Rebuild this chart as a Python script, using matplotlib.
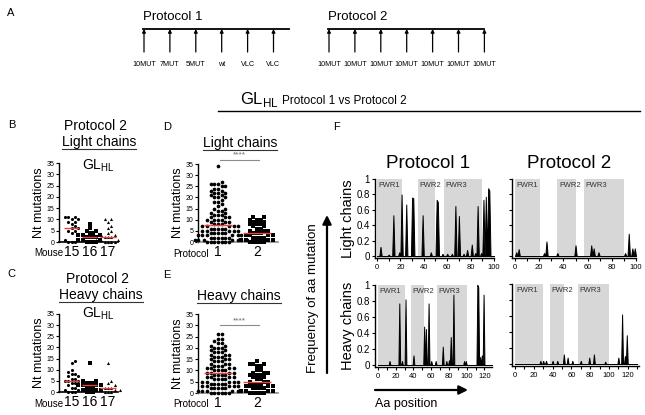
import numpy as np
import matplotlib.pyplot as plt
from matplotlib.ticker import MultipleLocator

plt.rcParams['font.family'] = ['Liberation Sans', 'DejaVu Sans']
plt.rcParams['mathtext.fontset'] = 'custom'
plt.rcParams['mathtext.rm'] = 'Liberation Sans'

W, H = 645, 415
RED = '#e8463c'
SHADE = '#d7d7d7'

# A: injection schedules
p1_shots = ['10MUT', '7MUT', '5MUT', 'wt', 'VLC', 'VLC']
p2_shots = ['10MUT'] * 7

# B/C: protocol 2, nt mutations per sequence for each mouse
mice = ['15', '16', '17']
light_m15 = [0, 0, 0, 1, 1, 4, 5, 5, 6, 6, 7, 8, 9, 9, 10, 10, 11, 11, 11]
light_m16 = [0, 0, 0, 0, 1, 1, 1, 2, 2, 2, 2, 3, 3, 3, 4, 4, 5, 5, 6, 8]
light_m17 = [0, 0, 0, 0, 1, 1, 1, 2, 2, 2, 3, 3, 4, 5, 6, 7, 9, 10, 10]
heavy_m15 = [0, 0, 0, 1, 1, 2, 2, 3, 3, 4, 4, 5, 5, 5, 6, 6, 7, 7, 8, 8, 9, 10, 13, 14]
heavy_m16 = [0, 0, 0, 1, 1, 1, 2, 2, 2, 3, 3, 3, 3, 4, 4, 4, 5, 5, 13]
heavy_m17 = [0, 0, 0, 1, 1, 1, 2, 2, 2, 3, 3, 4, 5, 13]

# D/E: protocol 1 vs protocol 2 (value, number of sequences)
light_p1_nt = [0, 1, 2, 3, 4, 5, 6, 7, 8, 9, 10, 11, 12, 13, 14, 15, 16, 17, 18, 19,
               20, 21, 22, 23, 24, 25, 26, 27, 34]
light_p1_n = [7, 7, 6, 6, 5, 5, 5, 5, 3, 3, 4, 3, 3, 2, 2, 2, 1, 1, 2, 1,
              3, 2, 3, 2, 2, 2, 3, 1, 1]
light_p2_nt = [0, 1, 2, 3, 4, 5, 6, 7, 8, 9, 10, 11]
light_p2_n = [5, 4, 4, 4, 3, 3, 2, 2, 3, 2, 3, 2]
heavy_p1_nt = [0, 1, 2, 3, 4, 5, 6, 7, 8, 9, 10, 11, 12, 13, 14, 15, 16, 17, 18, 19,
               20, 21, 22, 23, 24, 26]
heavy_p1_n = [6, 6, 5, 5, 5, 5, 4, 4, 4, 4, 4, 4, 3, 3, 3, 3, 3, 3, 3, 2,
              3, 2, 2, 1, 2, 2]
heavy_p2_nt = [0, 1, 2, 3, 4, 5, 6, 7, 8, 9, 10, 12, 13, 14]
heavy_p2_n = [5, 4, 4, 4, 3, 3, 2, 2, 3, 3, 2, 2, 3, 1]

# F: frequency of aa mutation by position
light_fwr = [(0, 21), (35, 50), (57, 90)]
heavy_fwr = [(0, 30), (37, 52), (67, 100)]
light_p1_pos = [3, 10, 14, 19, 21, 25, 30, 31, 39, 46, 51, 52, 56, 60, 64, 67, 70, 74,
                77, 81, 84, 86, 89, 91, 93, 95, 96]
light_p1_freq = [0.12, 0.02, 0.53, 0.05, 0.80, 0.67, 0.76, 0.75, 0.53, 0.05, 0.73, 0.70,
                 0.03, 0.03, 0.03, 0.65, 0.52, 0.03, 0.08, 0.15, 0.04, 0.65, 0.04, 0.73,
                 0.77, 0.88, 0.85]
light_p2_pos = [1, 3, 24, 26, 35, 50, 63, 65, 69, 91, 94, 97, 99]
light_p2_freq = [0.05, 0.09, 0.04, 0.19, 0.04, 0.14, 0.14, 0.10, 0.05, 0.04, 0.29, 0.10, 0.10]
heavy_p1_pos = [13, 24, 27, 31, 40, 52, 54, 57, 60, 65, 73, 77, 80, 82, 85, 97, 99,
                112, 113, 115, 117, 119]
heavy_p1_freq = [0.05, 0.77, 0.05, 0.82, 0.12, 0.48, 0.45, 0.77, 0.05, 0.05, 0.23, 0.05,
                 0.06, 0.35, 0.88, 0.05, 0.05, 1.0, 0.97, 0.10, 0.12, 0.88]
heavy_p2_pos = [27, 30, 33, 40, 45, 52, 56, 61, 70, 79, 84, 96, 110, 114, 117, 119]
heavy_p2_freq = [0.04, 0.04, 0.04, 0.04, 0.04, 0.12, 0.08, 0.04, 0.04, 0.08, 0.12, 0.03,
                 0.08, 0.62, 0.10, 0.36]


fig = plt.figure(figsize=(W / 100, H / 100), dpi=100)


def px_axes(l, t, r, b):
    ax = fig.add_axes([l / W, 1 - b / H, (r - l) / W, (b - t) / H])
    ax.patch.set_visible(False)
    for s in ['top', 'right']:
        ax.spines[s].set_visible(False)
    return ax


def dot_axes(l, t, r, b, xlim, xticks, xlabels, bottom_color):
    ax = px_axes(l, t, r, b)
    ax.set_xlim(*xlim)
    ax.set_ylim(0, 35)
    ax.set_yticks(range(0, 36, 5))
    ax.set_xticks(xticks, xlabels)
    ax.tick_params(axis='y', labelsize=5, length=2.5, width=0.8, pad=1)
    ax.tick_params(axis='x', length=0, labelsize=10, pad=2)
    ax.spines['left'].set_linewidth(1)
    ax.spines['bottom'].set_linewidth(1.2)
    ax.spines['bottom'].set_color(bottom_color)
    ax.set_ylabel('Nt mutations', fontsize=9, labelpad=1)
    return ax


def swarm(values, sy, d):
    # simple beeswarm in pixel space: each point takes the closest free slot
    order = np.argsort(values, kind='stable')
    placed = []
    offs = np.zeros(len(values))
    step = d * 0.5
    for i in order:
        y = values[i] * sy
        for k in range(400):
            cand = (k + 1) // 2 * step * (1 if k % 2 else -1)
            if all((cand - px) ** 2 + (y - py) ** 2 >= d * d for px, py in placed):
                break
        placed.append((cand, y))
        offs[i] = cand
    return offs


def dot_column(ax, xc, values, marker, d, size, hw):
    values = np.asarray(values, dtype=float)
    t = ax.transData
    sx = t.transform((1, 0))[0] - t.transform((0, 0))[0]
    sy = t.transform((0, 1))[1] - t.transform((0, 0))[1]
    xs = xc + swarm(values, sy, d) / sx
    ax.scatter(xs, values, marker=marker, s=size, c='black', linewidths=0,
               clip_on=False, zorder=3)
    m = np.median(values)
    ax.plot([xc - hw, xc + hw], [m, m], color=RED, lw=1, zorder=4, solid_capstyle='butt')


# B and C
markers = ['o', 's', '^']
axB = dot_axes(59, 163, 118, 242, (0.3, 3.55), [1, 2, 3], mice, 'black')
for i, vals in enumerate([light_m15, light_m16, light_m17]):
    dot_column(axB, i + 1, vals, markers[i], 3.3, 5, 0.42)
axC = dot_axes(59, 314, 118, 392, (0.3, 3.55), [1, 2, 3], mice, 'black')
for i, vals in enumerate([heavy_m15, heavy_m16, heavy_m17]):
    dot_column(axC, i + 1, vals, markers[i], 3.3, 5, 0.42)

# D and E
axD = dot_axes(198, 164, 278, 242, (0.49, 2.54), [1, 2], ['1', '2'], '#8c8c8c')
dot_column(axD, 1, np.repeat(light_p1_nt, light_p1_n), 'o', 3.6, 7, 0.35)
dot_column(axD, 2, np.repeat(light_p2_nt, light_p2_n), 's', 3.6, 6, 0.35)
axD.plot([1.05, 2.05], [36.8, 36.8], color='#8c8c8c', lw=0.8, clip_on=False)
axD.text(1.55, 37.3, '****', fontsize=6, color='#666', ha='center', va='bottom')

axE = dot_axes(198, 314, 278, 393, (0.49, 2.54), [1, 2], ['1', '2'], '#8c8c8c')
dot_column(axE, 1, np.repeat(heavy_p1_nt, heavy_p1_n), 'o', 3.6, 7, 0.35)
dot_column(axE, 2, np.repeat(heavy_p2_nt, heavy_p2_n), 's', 3.6, 6, 0.35)
axE.plot([1.05, 2.05], [30, 30], color='#8c8c8c', lw=0.8, clip_on=False)
axE.text(1.55, 30.5, '****', fontsize=6, color='#666', ha='center', va='bottom')


# F
def freq_panel(rect, pos, freq, fwr, xmax, xlim, ylabel):
    ax = px_axes(*rect)
    grid = np.arange(0, xmax + 1)
    f = np.zeros(grid.size)
    f[np.array(pos)] = freq
    for i, (a, b) in enumerate(fwr):
        ax.fill_between([a, b], 0, 1, color=SHADE, lw=0, zorder=0)
        ax.text(a + 1.5, 0.965, f'FWR{i + 1}', fontsize=5.5, color='#333', va='top')
    ax.fill_between(grid, f, color='black', lw=0.7, edgecolor='black', zorder=2)
    ax.set_xlim(*xlim)
    ax.set_ylim(-0.025, 1.0)
    ax.xaxis.set_major_locator(MultipleLocator(20))
    ax.xaxis.set_minor_locator(MultipleLocator(10))
    ax.set_yticks(np.arange(0, 1.01, 0.2))
    ax.tick_params(axis='x', which='both', labelsize=5.5, length=2.5, width=0.8, pad=1.5)
    ax.tick_params(axis='y', length=2.5, width=0.8, labelsize=7, pad=1)
    for s in ['left', 'bottom']:
        ax.spines[s].set_linewidth(1)
    if ylabel:
        ax.set_yticklabels(['0', '0.2', '0.4', '0.6', '0.8', '1'])
        ax.set_ylabel(ylabel, fontsize=10.5, labelpad=1)
    else:
        ax.set_yticklabels([])
    return ax


freq_panel((375, 179, 494, 258), light_p1_pos, light_p1_freq, light_fwr, 100,
           (-1.7, 100), 'Light chains')
freq_panel((512, 179, 636, 258), light_p2_pos, light_p2_freq, light_fwr, 100,
           (-2.5, 100), None)
freq_panel((375, 285, 492, 367), heavy_p1_pos, heavy_p1_freq, heavy_fwr, 130,
           (-3.4, 128.5), 'Heavy chains')
freq_panel((512, 284, 639, 366), heavy_p2_pos, heavy_p2_freq, heavy_fwr, 130,
           (-3.2, 132), None)

# overlay for labels, arrows and titles (pixel coordinates)
ov = fig.add_axes([0, 0, 1, 1])
ov.set_xlim(0, W)
ov.set_ylim(H, 0)
ov.axis('off')


def underlined(x, y, s, size):
    t = ov.text(x, y, s, fontsize=size, ha='center', va='center')
    fig.canvas.draw()
    bb = t.get_window_extent().transformed(ov.transData.inverted())
    yb = max(bb.y0, bb.y1)
    ov.plot([bb.x0, bb.x1], [yb, yb], color='#333', lw=0.8)


# A
ov.text(7, 13, 'A', fontsize=8, va='center')
for name, shots, x0, tail in [('Protocol 1', p1_shots, 144, 15), ('Protocol 2', p2_shots, 329, 0)]:
    xs = x0 + 25.9 * np.arange(len(shots))
    ov.text(x0 - 1, 17, name, fontsize=9.5, va='center')
    ov.plot([xs[0] - 1, xs[-1] + tail], [29, 29], color='black', lw=1.3)
    for x, lab in zip(xs, shots):
        ov.annotate('', xy=(x, 29), xytext=(x, 52),
                    arrowprops=dict(arrowstyle='-|>', lw=0.9, color='black',
                                    mutation_scale=5, shrinkA=0, shrinkB=0))
        ov.text(x, 64, lab, fontsize=5.2, ha='center', va='center')

# title across D-F
ov.text(240, 104, r'GL$_{\mathregular{HL}}$', fontsize=12, va='baseline')
ov.text(282, 104, 'Protocol 1 vs Protocol 2', fontsize=8.5, va='baseline')
ov.plot([218, 640], [111, 111], color='black', lw=1)

# B / C headings
ov.text(8, 125, 'B', fontsize=8, va='center')
ov.text(96, 126, 'Protocol 2', fontsize=10, ha='center', va='center')
underlined(99, 142, 'Light chains', 10)
ov.text(82, 166, r'GL$_{\mathregular{HL}}$', fontsize=10, va='center')
ov.text(63, 253, 'Mouse', fontsize=7, ha='right', va='center')

ov.text(7, 274, 'C', fontsize=8, va='center')
ov.text(97, 279, 'Protocol 2', fontsize=10, ha='center', va='center')
underlined(101, 295, 'Heavy chains', 10)
ov.text(82, 314, r'GL$_{\mathregular{HL}}$', fontsize=10, va='center')
ov.text(63, 404, 'Mouse', fontsize=7, ha='right', va='center')

# D / E headings
ov.text(163, 127, 'D', fontsize=8, va='center')
underlined(240, 143, 'Light chains', 10)
ov.text(209, 254, 'Protocol', fontsize=7, ha='right', va='center')
ov.text(163, 275, 'E', fontsize=8, va='center')
underlined(239, 296, 'Heavy chains', 10)
ov.text(209, 404, 'Protocol', fontsize=7, ha='right', va='center')

# F headings and arrows
ov.text(333, 127, 'F', fontsize=8, va='center')
ov.text(428, 163, 'Protocol 1', fontsize=13.5, ha='center', va='center')
ov.text(569, 163, 'Protocol 2', fontsize=13.5, ha='center', va='center')
ov.text(313, 298, 'Frequency of aa mutation', fontsize=9.5, rotation=90,
        ha='center', va='center')
ov.annotate('', xy=(327, 215), xytext=(327, 373),
            arrowprops=dict(arrowstyle='-|>', lw=1.6, color='black',
                            mutation_scale=13, shrinkA=0, shrinkB=0))
ov.annotate('', xy=(468, 390), xytext=(375, 390),
            arrowprops=dict(arrowstyle='-|>', lw=1.6, color='black',
                            mutation_scale=13, shrinkA=0, shrinkB=0))
ov.text(375, 404, 'Aa position', fontsize=9, va='center')

fig.savefig('out.png', dpi=100)
